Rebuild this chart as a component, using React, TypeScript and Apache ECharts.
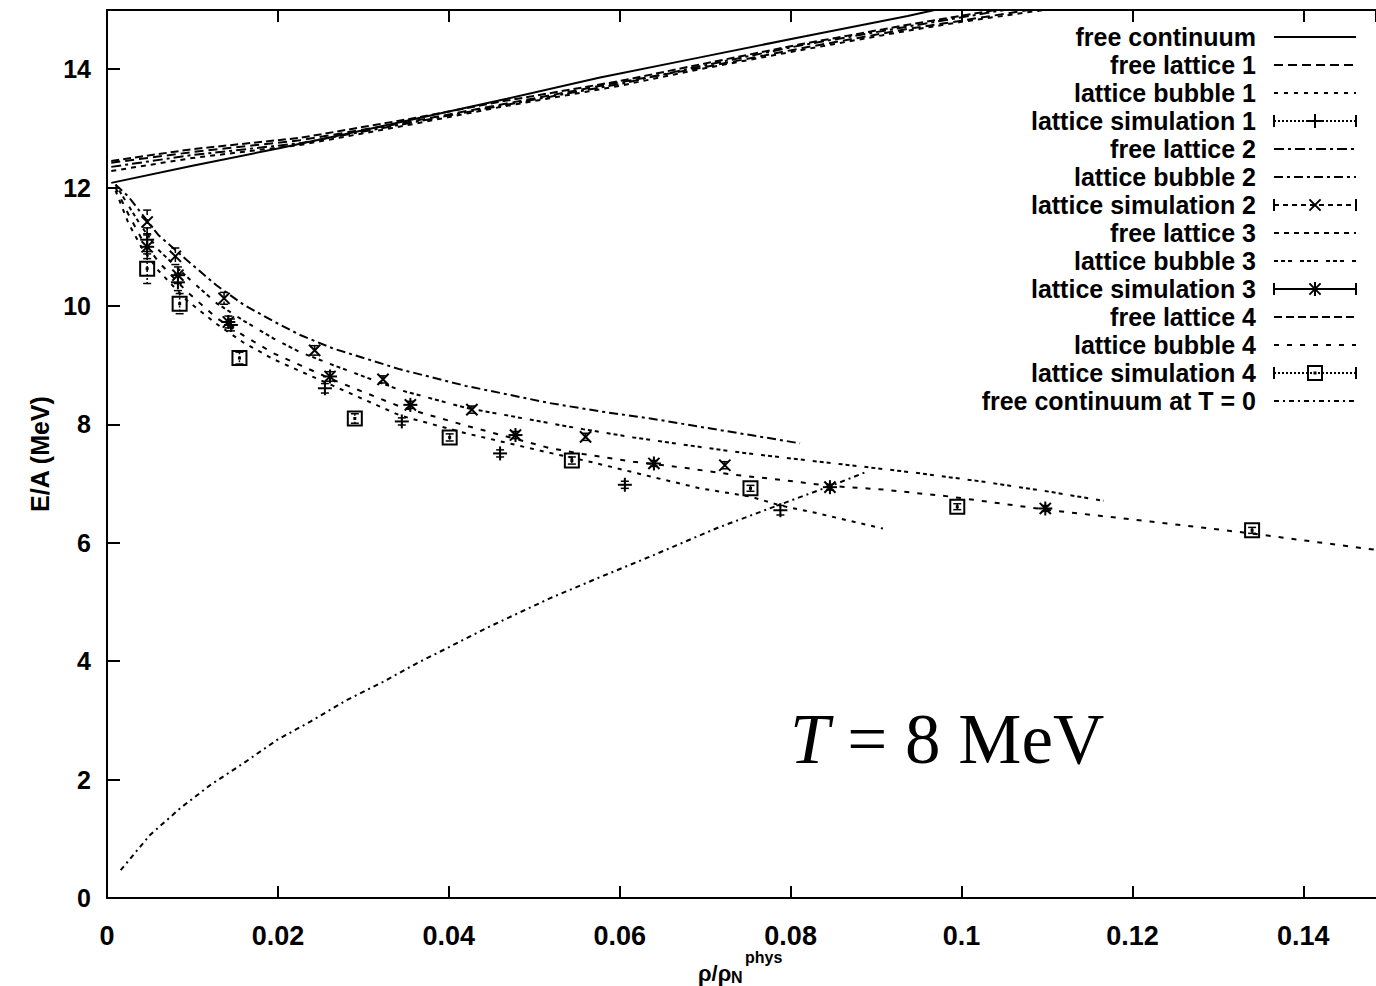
import React, { useEffect, useRef } from "react";
import * as echarts from "echarts";

// ---- data: E/A (MeV) versus rho/rho_N^phys at T = 8 MeV ----

const freeContinuum: [number, number][] = [
  [0.0005, 12.08], [0.01, 12.37], [0.02, 12.66], [0.03, 12.97], [0.0468, 13.5],
  [0.0577, 13.86], [0.0694, 14.2], [0.0811, 14.54], [0.0937, 14.9], [0.1, 15.1],
];

const freeLattice1: [number, number][] = [
  [0.0005, 12.42], [0.01, 12.6], [0.0226, 12.8], [0.035, 13.1], [0.046, 13.4],
  [0.06, 13.78], [0.0694, 14.02], [0.0811, 14.35], [0.0937, 14.68], [0.1, 14.82], [0.11, 15.05],
];
const freeLattice2: [number, number][] = [
  [0.0005, 12.35], [0.01, 12.55], [0.0226, 12.75], [0.035, 13.08], [0.046, 13.38],
  [0.06, 13.75], [0.0694, 14.05], [0.0811, 14.4], [0.0937, 14.72], [0.107, 15.05],
];
const freeLattice3: [number, number][] = [
  [0.0005, 12.28], [0.01, 12.5], [0.0226, 12.72], [0.035, 13.05], [0.046, 13.36],
  [0.06, 13.72], [0.0694, 14.0], [0.0811, 14.32], [0.0937, 14.65], [0.1, 14.8], [0.112, 15.05],
];
const freeLattice4: [number, number][] = [
  [0.0005, 12.45], [0.01, 12.65], [0.0226, 12.84], [0.035, 13.15], [0.046, 13.45],
  [0.06, 13.8], [0.0694, 14.08], [0.0811, 14.42], [0.0937, 14.75], [0.106, 15.05],
];

const latticeBubble1: [number, number][] = [
  [0.001, 11.95], [0.0025, 11.4], [0.004, 11.0], [0.006, 10.6], [0.0093, 10.1],
  [0.0128, 9.7], [0.016, 9.38], [0.0195, 9.1], [0.0226, 8.9], [0.0265, 8.65],
  [0.0343, 8.15], [0.042, 7.85], [0.0518, 7.52], [0.0565, 7.37], [0.0636, 7.12],
  [0.0694, 6.92], [0.0753, 6.78], [0.0788, 6.63], [0.0831, 6.5], [0.0908, 6.24],
];
const latticeBubble2: [number, number][] = [
  [0.001, 12.05], [0.0025, 11.85], [0.004, 11.57], [0.006, 11.2], [0.0093, 10.78],
  [0.0128, 10.35], [0.016, 10.02], [0.0195, 9.74], [0.0226, 9.51], [0.0265, 9.28],
  [0.0343, 8.93], [0.042, 8.65], [0.0518, 8.36], [0.0577, 8.22], [0.0636, 8.1],
  [0.0694, 7.96], [0.0753, 7.82], [0.0811, 7.68],
];
const latticeBubble3: [number, number][] = [
  [0.001, 12.05], [0.0025, 11.7], [0.004, 11.35], [0.006, 10.95], [0.0093, 10.5],
  [0.0128, 10.05], [0.016, 9.75], [0.0195, 9.45], [0.0226, 9.22], [0.0265, 9.0],
  [0.0343, 8.58], [0.042, 8.28], [0.0518, 8.02], [0.0557, 7.92], [0.0616, 7.78],
  [0.0674, 7.66], [0.0733, 7.54], [0.0791, 7.44], [0.087, 7.31], [0.0948, 7.18],
  [0.1026, 7.03], [0.1104, 6.86], [0.1166, 6.71],
];
const latticeBubble4: [number, number][] = [
  [0.001, 12.0], [0.0025, 11.55], [0.004, 11.15], [0.006, 10.75], [0.0093, 10.25],
  [0.0128, 9.8], [0.016, 9.5], [0.0195, 9.2], [0.0226, 9.0], [0.0265, 8.75],
  [0.0343, 8.3], [0.042, 7.98], [0.0518, 7.6], [0.0557, 7.5], [0.0616, 7.37],
  [0.0674, 7.27], [0.0733, 7.15], [0.0791, 7.06], [0.0846, 6.96], [0.0908, 6.9],
  [0.0987, 6.78], [0.1104, 6.55], [0.1221, 6.36], [0.1338, 6.16], [0.1485, 5.88],
];

// [density, E/A, error]
const latticeSim1: [number, number, number][] = [
  [0.0047, 11.12, 0.2], [0.0083, 10.4, 0.14], [0.0145, 9.68, 0.1], [0.0255, 8.61, 0.08],
  [0.0345, 8.05, 0.06], [0.046, 7.51, 0.06], [0.0606, 6.98, 0.06], [0.0788, 6.55, 0.08],
];
const latticeSim2: [number, number, number][] = [
  [0.0047, 11.42, 0.2], [0.008, 10.84, 0.14], [0.0137, 10.13, 0.1], [0.0243, 9.25, 0.08],
  [0.0323, 8.76, 0.06], [0.0427, 8.25, 0.06], [0.056, 7.79, 0.06], [0.0723, 7.31, 0.06],
];
const latticeSim3: [number, number, number][] = [
  [0.0047, 11.0, 0.2], [0.0083, 10.52, 0.14], [0.0142, 9.73, 0.1], [0.0261, 8.81, 0.08],
  [0.0355, 8.33, 0.06], [0.0478, 7.82, 0.06], [0.064, 7.34, 0.05], [0.0846, 6.94, 0.05],
  [0.1098, 6.58, 0.05],
];
const latticeSim4: [number, number, number][] = [
  [0.0047, 10.63, 0.25], [0.0085, 10.04, 0.17], [0.0155, 9.12, 0.1], [0.029, 8.1, 0.08],
  [0.0401, 7.78, 0.06], [0.0544, 7.39, 0.06], [0.0753, 6.92, 0.05], [0.0995, 6.61, 0.05],
  [0.134, 6.21, 0.05],
];

const freeContinuumT0: [number, number][] = [
  [0.0016, 0.47], [0.005, 1.06], [0.0086, 1.52], [0.0121, 1.91], [0.016, 2.28],
  [0.0199, 2.67], [0.0238, 2.98], [0.028, 3.34], [0.0323, 3.65], [0.0362, 3.96],
  [0.0402, 4.25], [0.0444, 4.56], [0.0518, 5.06], [0.0577, 5.42], [0.0636, 5.77],
  [0.0714, 6.25], [0.0792, 6.67], [0.0854, 7.0], [0.0889, 7.2],
];

const xTicks = { min: 0, max: 0.1485, step: 0.02 };
const yTicks = { min: 0, max: 15, step: 2 };

// ---- styling ----
const SANS = '"Liberation Sans", Arial, Helvetica, sans-serif';
const SERIF = '"Liberation Serif", "Times New Roman", serif';
const INK = "#000";

type Marker = "plus" | "cross" | "star" | "box";

const dash = {
  solid: [] as number[],
  fl1: [9, 5],
  lb1: [4, 6],
  fl2: [10, 4, 3, 4],
  lb2: [9, 4, 3, 4],
  fl3: [5, 5],
  lb3: [4, 3, 4, 3, 4, 8],
  fl4: [8, 4],
  lb4: [5, 8],
  t0: [5, 4, 2, 4],
  sim1: [2, 2],
  sim2: [5, 4],
  sim4: [2, 2],
};

function markerShapes(kind: Marker, cx: number, cy: number, r = 7): any[] {
  const st = { stroke: INK, lineWidth: 2, fill: null };
  const ln = (x1: number, y1: number, x2: number, y2: number) => ({
    type: "line",
    shape: { x1, y1, x2, y2 },
    style: st,
  });
  const d = r * 0.8;
  if (kind === "plus") return [ln(cx - r, cy, cx + r, cy), ln(cx, cy - r, cx, cy + r)];
  if (kind === "cross") return [ln(cx - d, cy - d, cx + d, cy + d), ln(cx - d, cy + d, cx + d, cy - d)];
  if (kind === "star")
    return [
      ln(cx - r, cy, cx + r, cy),
      ln(cx, cy - r, cx, cy + r),
      ln(cx - d, cy - d, cx + d, cy + d),
      ln(cx - d, cy + d, cx + d, cy - d),
    ];
  return [
    { type: "rect", shape: { x: cx - r, y: cy - r, width: 2 * r, height: 2 * r }, style: st },
    { type: "rect", shape: { x: cx - 1.5, y: cy - 1.5, width: 3, height: 3 }, style: { fill: INK } },
  ];
}

function lineSeries(name: string, data: [number, number][], type: number[]) {
  return {
    type: "line",
    name,
    data,
    symbol: "none",
    showSymbol: false,
    silent: true,
    clip: true,
    lineStyle: { color: INK, width: 2, type: type.length ? type : "solid" },
    z: 2,
  };
}

function simSeries(name: string, data: [number, number, number][], kind: Marker, barDash: number[]) {
  return {
    type: "custom",
    name,
    data,
    silent: true,
    clip: true,
    encode: { x: 0, y: 1 },
    z: 3,
    renderItem: (_params: any, api: any) => {
      const x = api.value(0);
      const y = api.value(1);
      const e = api.value(2);
      const c = api.coord([x, y]);
      const top = api.coord([x, y + e])[1];
      const bot = api.coord([x, y - e])[1];
      const st = { stroke: INK, lineWidth: 1.5, fill: null };
      return {
        type: "group",
        children: [
          {
            type: "line",
            shape: { x1: c[0], y1: top, x2: c[0], y2: bot },
            style: { ...st, lineDash: barDash.length ? barDash : null },
          },
          { type: "line", shape: { x1: c[0] - 4, y1: top, x2: c[0] + 4, y2: top }, style: st },
          { type: "line", shape: { x1: c[0] - 4, y1: bot, x2: c[0] + 4, y2: bot }, style: st },
          ...markerShapes(kind, c[0], c[1]),
        ],
      };
    },
  };
}

type Entry = { label: string; dash: number[]; marker?: Marker };
const legendEntries: Entry[] = [
  { label: "free continuum", dash: dash.solid },
  { label: "free lattice 1", dash: dash.fl1 },
  { label: "lattice bubble 1", dash: dash.lb1 },
  { label: "lattice simulation 1", dash: dash.sim1, marker: "plus" },
  { label: "free lattice 2", dash: dash.fl2 },
  { label: "lattice bubble 2", dash: dash.lb2 },
  { label: "lattice simulation 2", dash: dash.sim2, marker: "cross" },
  { label: "free lattice 3", dash: dash.fl3 },
  { label: "lattice bubble 3", dash: dash.lb3 },
  { label: "lattice simulation 3", dash: dash.solid, marker: "star" },
  { label: "free lattice 4", dash: dash.fl4 },
  { label: "lattice bubble 4", dash: dash.lb4 },
  { label: "lattice simulation 4", dash: dash.sim4, marker: "box" },
  { label: "free continuum at T = 0", dash: dash.t0 },
];

function legendGraphics(): any[] {
  const out: any[] = [];
  const textRight = 1256;
  const x1 = 1274;
  const x2 = 1356;
  legendEntries.forEach((en, i) => {
    const y = 37 + 28 * i;
    out.push({
      type: "text",
      x: textRight,
      y,
      style: {
        text: en.label,
        fill: INK,
        font: `bold 25px ${SANS}`,
        textAlign: "right",
        textVerticalAlign: "middle",
        align: "right",
        verticalAlign: "middle",
      },
    });
    out.push({
      type: "line",
      shape: { x1, y1: y, x2, y2: y },
      style: { stroke: INK, lineWidth: 2, lineDash: en.dash.length ? en.dash : null },
    });
    if (en.marker) {
      const st = { stroke: INK, lineWidth: 2 };
      out.push({ type: "line", shape: { x1, y1: y - 6, x2: x1, y2: y + 6 }, style: st });
      out.push({ type: "line", shape: { x1: x2, y1: y - 6, x2: x2, y2: y + 6 }, style: st });
      out.push({
        type: "group",
        children: markerShapes(en.marker, (x1 + x2) / 2, y, 7),
      });
    }
  });
  return out;
}

const tickLabel = (v: number) => String(parseFloat(v.toFixed(3)));

function axisTitleText(text: string, x: number, y: number, size: number) {
  return {
    type: "text",
    x,
    y,
    style: {
      text,
      fill: INK,
      font: `bold ${size}px ${SANS}`,
      textVerticalAlign: "middle",
      verticalAlign: "middle",
    },
  };
}

export default function App() {
  const ref = useRef<HTMLDivElement>(null);

  useEffect(() => {
    if (!ref.current) return;
    const chart = echarts.init(ref.current, null, { renderer: "svg" });

    const axisLine = { show: true, onZero: false, lineStyle: { color: INK, width: 2 } };
    const xBase = {
      type: "value",
      min: xTicks.min,
      max: xTicks.max,
      interval: xTicks.step,
      splitLine: { show: false },
      axisLine,
      axisTick: { show: true, inside: true, length: 12, lineStyle: { color: INK, width: 2 } },
    };

    chart.setOption({
      animation: false,
      backgroundColor: "#fff",
      grid: { left: 107, right: 0, top: 10, bottom: 88, containLabel: false },
      xAxis: [
        {
          ...xBase,
          position: "bottom",
          axisLabel: {
            color: INK,
            fontFamily: SANS,
            fontWeight: "bold",
            fontSize: 27,
            margin: 24,
            showMaxLabel: false,
            formatter: tickLabel,
          },
        },
        { ...xBase, position: "top", axisLabel: { show: false } },
      ],
      yAxis: {
        type: "value",
        min: yTicks.min,
        max: yTicks.max,
        interval: yTicks.step,
        splitLine: { show: false },
        axisLine,
        axisTick: { show: true, inside: true, length: 13, lineStyle: { color: INK, width: 2 } },
        axisLabel: {
          color: INK,
          fontFamily: SANS,
          fontWeight: "bold",
          fontSize: 25,
          margin: 16,
          showMaxLabel: false,
          formatter: tickLabel,
        },
        name: "E/A (MeV)",
        nameLocation: "middle",
        nameRotate: 90,
        nameGap: 55,
        nameTextStyle: { color: INK, fontFamily: SANS, fontWeight: "bold", fontSize: 25 },
      },
      series: [
        lineSeries("free continuum", freeContinuum, dash.solid),
        lineSeries("free lattice 1", freeLattice1, dash.fl1),
        lineSeries("lattice bubble 1", latticeBubble1, dash.lb1),
        simSeries("lattice simulation 1", latticeSim1, "plus", dash.sim1),
        lineSeries("free lattice 2", freeLattice2, dash.fl2),
        lineSeries("lattice bubble 2", latticeBubble2, dash.lb2),
        simSeries("lattice simulation 2", latticeSim2, "cross", dash.sim2),
        lineSeries("free lattice 3", freeLattice3, dash.fl3),
        lineSeries("lattice bubble 3", latticeBubble3, dash.lb3),
        simSeries("lattice simulation 3", latticeSim3, "star", dash.solid),
        lineSeries("free lattice 4", freeLattice4, dash.fl4),
        lineSeries("lattice bubble 4", latticeBubble4, dash.lb4),
        simSeries("lattice simulation 4", latticeSim4, "box", dash.sim4),
        lineSeries("free continuum at T = 0", freeContinuumT0, dash.t0),
      ],
      graphic: [
        ...legendGraphics(),
        {
          type: "text",
          x: 790,
          y: 739,
          style: {
            text: "{it|T} = 8 MeV",
            fill: INK,
            font: `71px ${SERIF}`,
            textVerticalAlign: "middle",
            verticalAlign: "middle",
            rich: {
              it: { fontStyle: "italic", fontFamily: SERIF, fontSize: 71, fill: INK },
            },
          },
        },
        // x-axis title: rho / rho_N with superscript "phys"
        axisTitleText("ρ/ρ", 698, 973, 22),
        axisTitleText("N", 731, 977, 16),
        axisTitleText("phys", 745, 957, 16),
      ],
    });

    return () => chart.dispose();
  }, []);

  return (
    <div
      ref={ref}
      style={{ position: "absolute", left: 0, top: 0, width: 1376, height: 986, background: "#fff" }}
    />
  );
}
